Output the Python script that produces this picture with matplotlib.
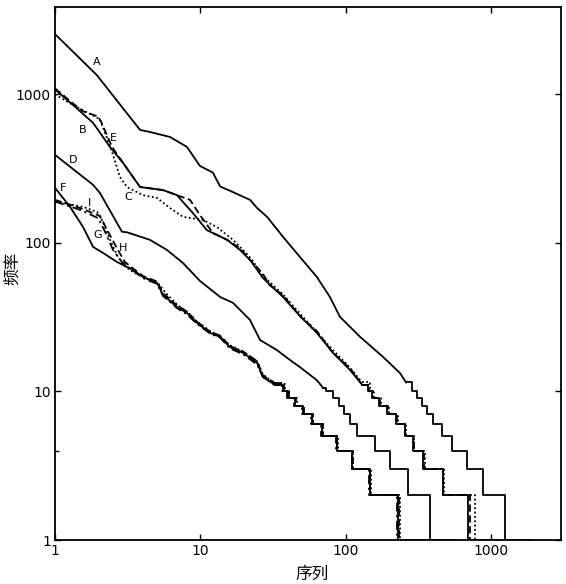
import matplotlib
matplotlib.use('Agg')
import matplotlib.pyplot as plt
from matplotlib.ticker import FixedLocator, NullLocator

# frequency levels of the stair tails (rank where the frequency drops to 10, 9, ..., 1)
step_freq = [10, 9, 8, 7, 6, 5, 4, 3, 2, 1]

# curve A
A_rank = [1, 1.94, 3.85, 4.5, 6.2, 8.1, 9.95, 12.2, 13.7, 16.8, 22, 24.6, 28.8, 37.1,
          48.5, 63.5, 78, 91.5, 126, 181, 237, 261]
A_freq = [2550, 1350, 577, 559, 517, 443, 330, 298, 240, 220, 195, 172, 150, 110,
          80.5, 59, 43.3, 31.8, 23.3, 17.1, 13.3, 11.5]
A_step = [286, 310, 336, 363, 400, 461, 540, 685, 883, 1250, 1950]

# curves B, C, E
B_rank = [1, 1.33, 1.83, 2.39, 2.94, 3.85, 5.54, 6.9, 8.9, 11.1, 15.3, 18.8, 22, 27,
          37.1, 48.5, 63.5, 81.9, 107, 130]
B_freq = [1080, 850, 643, 443, 346, 238, 227, 210, 159, 122, 105, 89.7, 76.8, 58.1,
          43.3, 32.2, 24.8, 18.2, 14.0, 11.1]
B_step = [143, 152, 170, 193, 222, 256, 291, 341, 468, 695, 1155]

E_rank = [1, 1.33, 1.56, 1.98, 2.1, 2.47, 2.94, 3.85, 5.54, 6.9, 8.5, 9.95, 12.2, 15.3,
          18.8, 22, 27, 30, 37.1, 48.5, 63.5, 81.9, 107, 130]
E_freq = [1100, 870, 770, 710, 640, 443, 346, 238, 227, 210, 195, 154, 117, 105,
          92, 76.8, 62, 52, 44.5, 32.2, 25.5, 18.2, 14.4, 11.1]
E_step = [145, 155, 172, 196, 225, 258, 294, 345, 472, 718, 1155]

C_rank = [1, 1.33, 1.83, 2.04, 2.47, 2.8, 3.13, 4.03, 5.04, 6.18, 7.6, 10.4, 13.0, 16.8,
          19.7, 22.5, 27, 37.1, 48.5, 63.5, 81.9, 107, 130]
C_freq = [1000, 850, 720, 680, 410, 278, 238, 210, 201, 172, 150, 143, 128, 105,
          89.7, 78, 60, 45, 33.5, 25, 19, 14.5, 11.5]
C_step = [147, 158, 175, 198, 228, 262, 298, 350, 478, 778, 1155]

# curve D
D_rank = [1, 1.83, 2.04, 2.89, 3.13, 4.5, 5.9, 7.6, 9.95, 13.7, 16.8, 22, 25.8, 33.7,
          41.4, 48.5, 63.5, 69.9]
D_freq = [392, 246, 217, 119, 118, 105, 89.7, 73.3, 55.5, 43.3, 39.5, 30.3, 22.2, 19.0,
          16.3, 14.6, 11.9, 10.6]
D_step = [73.3, 81.9, 90.1, 97.5, 107, 120, 159, 202, 269, 381, 548]

# curves F, G, H, I
F_rank = [1, 1.27, 1.56, 1.83, 2.14, 2.67, 3.44, 4.03, 5.04, 5.54, 6.9, 8.1, 9.5, 11.7,
          13.7, 16.0, 19.7, 24.6, 27.0, 32.7]
F_freq = [235, 175, 128, 94, 85.7, 74.5, 65.8, 59, 53.8, 44.7, 37.1, 33.8, 28.9, 24.8,
          23.3, 19.9, 18.2, 15.6, 12.5, 11.1]
F_step = [37.1, 40.1, 44.9, 50.9, 58.7, 68.8, 87.2, 111, 147, 230, 566]

G_rank = [1, 1.49, 1.98, 2.21, 2.51, 2.89, 3.55, 4.03, 5.04, 5.54, 6.9, 8.1, 9.5, 11.7,
          13.7, 16.0, 19.7, 24.6, 27.0, 32.7]
G_freq = [190, 167, 147, 119, 89.7, 74.5, 63.8, 58, 53, 44, 36.5, 33, 28.5, 24.5,
          23, 19.5, 17.8, 15.2, 12.5, 11]
G_step = [36.5, 39.5, 44, 50, 58, 68, 86, 110, 145, 226, 566]

H_rank = [1, 1.49, 2.04, 2.32, 2.71, 3.03, 3.55, 4.03, 5.04, 5.54, 6.9, 8.1, 9.5, 11.7,
          13.7, 16.0, 19.7, 24.6, 27.0, 32.7]
H_freq = [195, 172, 152, 119, 89.7, 74.5, 65.8, 60, 55, 46, 38, 34.5, 29.5, 25.2,
          23.8, 20.2, 18.6, 16, 12.8, 11.4]
H_step = [37.5, 40.5, 45.5, 51.5, 59.5, 69.5, 88, 112, 148, 233, 566]

I_rank = [1, 1.56, 1.95, 2.14, 2.39, 2.67, 2.94, 3.44, 4.03, 5.04, 5.8, 6.9, 8.1, 9.5,
          11.7, 13.7, 16.0, 19.7, 24.6, 27.0, 32.7]
I_freq = [190, 175, 162, 138, 105, 83, 71, 63.8, 59, 54.5, 46, 38.5, 34.5, 29.5,
          25.5, 23.5, 20.5, 18.5, 16, 13, 11.3]
I_step = [38, 41, 46, 52, 60, 70, 89, 113, 150, 236, 566]

tick_vals = [1, 10, 100, 1000]
tick_labels = ['1', '10', '100', '1000']


def draw_curve(ax, rank, freq, step_rank, style):
    ax.plot(rank, freq, color='black', lw=1.3, linestyle=style)
    xs = [rank[-1]] + step_rank
    ys = [freq[-1]] + step_freq + [1]
    ax.step(xs, ys, where='post', color='black', lw=1.3, linestyle=style)


def main():
    plt.rcParams['font.family'] = ['DejaVu Sans']
    fig = plt.figure(figsize=(5.66, 5.84), dpi=100)
    ax = fig.add_axes([55 / 566, 1 - 540 / 584, 506 / 566, 533 / 584])
    ax.set_xscale('log')
    ax.set_yscale('log')

    solid = '-'
    dotted = (0, (1.0, 1.4))
    dashed = (0, (4, 2))
    dashdot = (0, (5, 2, 1.2, 2))

    draw_curve(ax, A_rank, A_freq, A_step, solid)
    draw_curve(ax, B_rank, B_freq, B_step, solid)
    draw_curve(ax, E_rank, E_freq, E_step, dashed)
    draw_curve(ax, C_rank, C_freq, C_step, dotted)
    draw_curve(ax, D_rank, D_freq, D_step, solid)
    draw_curve(ax, F_rank, F_freq, F_step, solid)
    draw_curve(ax, G_rank, G_freq, G_step, dashdot)
    draw_curve(ax, H_rank, H_freq, H_step, dashed)
    draw_curve(ax, I_rank, I_freq, I_step, dotted)

    ax.set_xlim(1, 3040)
    ax.set_ylim(1, 3880)

    # curve letters
    labels = [('A', 1.94, 1656), ('B', 1.56, 577), ('E', 2.51, 509), ('C', 3.18, 204),
              ('D', 1.33, 362), ('F', 1.14, 235), ('I', 1.74, 186), ('G', 1.98, 113),
              ('H', 2.94, 92.5)]
    for txt, x, y in labels:
        ax.text(x, y, txt, fontsize=8, ha='center', va='center')

    ax.xaxis.set_major_locator(FixedLocator(tick_vals))
    ax.yaxis.set_major_locator(FixedLocator(tick_vals))
    ax.set_xticklabels(tick_labels)
    ax.set_yticklabels(tick_labels)
    ax.xaxis.set_minor_locator(NullLocator())
    ax.yaxis.set_minor_locator(FixedLocator([4]))
    ax.tick_params(axis='both', which='major', labelsize=10, direction='in',
                   length=4, width=1, top=True, right=True, pad=3)
    ax.tick_params(axis='y', which='minor', direction='in', length=3, width=1,
                   left=True, right=False)

    for sp in ax.spines.values():
        sp.set_linewidth(1.3)

    cjk = ['Noto Sans CJK SC', 'DejaVu Sans']
    ax.set_xlabel('序列', family=cjk, fontsize=12)
    ax.set_ylabel('频率', family=cjk, fontsize=12)
    ax.xaxis.set_label_coords(0.508, -0.049)
    ax.yaxis.set_label_coords(-0.068, 0.51)

    fig.savefig('out.png', dpi=100)


if __name__ == '__main__':
    main()
